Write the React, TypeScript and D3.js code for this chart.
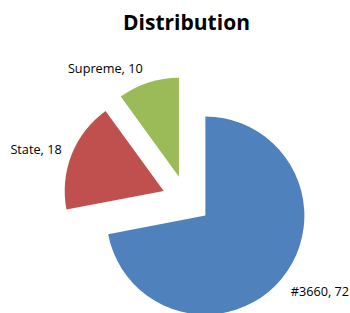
import React from "react";
import * as d3 from "d3";

const categories = ["#3660", "State", "Supreme"];
const values = [72, 18, 10];
const colors = ["#4F81BD", "#C0504D", "#9BBB59"];
const title = "Distribution";

const W = 350;
const H = 313;
const cx = 186.5;
const cy = 200;
const R = 99;
const EXPLODE = 24.5;
const LABEL_R = R * 1.12;
const FONT = "'Open Sans', 'Liberation Sans', Arial, sans-serif";
// small best-fit nudges for the data labels (layout only)
const LABEL_NUDGE = [
  [0, 5],
  [1, -1],
  [-2, -3],
];

export default function App() {
  const data = categories.map((c, i) => ({ name: c, value: values[i], color: colors[i] }));
  const pie = d3.pie<any>().value((d: any) => d.value).sort(null).startAngle(0).endAngle(2 * Math.PI);
  const arcs = pie(data);
  const arc = d3.arc<any>().innerRadius(0).outerRadius(R);

  return (
    <svg
      width={W}
      height={H}
      style={{ position: "absolute", left: 0, top: 0, background: "#fff" }}
    >
      <text
        x={cx}
        y={30}
        textAnchor="middle"
        fontFamily={FONT}
        fontWeight="bold"
        fontSize={21}
        fill="#000"
      >
        {title}
      </text>
      <g transform={`translate(${cx},${cy})`}>
        {arcs.map((a, i) => {
          const mid = (a.startAngle + a.endAngle) / 2;
          const ox = Math.sin(mid) * EXPLODE;
          const oy = -Math.cos(mid) * EXPLODE;
          const lx = ox + Math.sin(mid) * LABEL_R + LABEL_NUDGE[i][0];
          const ly = oy - Math.cos(mid) * LABEL_R + LABEL_NUDGE[i][1];
          const right = Math.sin(mid) > 0;
          return (
            <g key={i}>
              <path d={arc(a) as string} transform={`translate(${ox},${oy})`} fill={a.data.color} />
              <text
                x={lx}
                y={ly}
                dy="0.35em"
                textAnchor={right ? "start" : "end"}
                fontFamily={FONT}
                fontSize={12.7}
                fill="#000"
              >
                {`${a.data.name}, ${a.data.value}`}
              </text>
            </g>
          );
        })}
      </g>
    </svg>
  );
}
